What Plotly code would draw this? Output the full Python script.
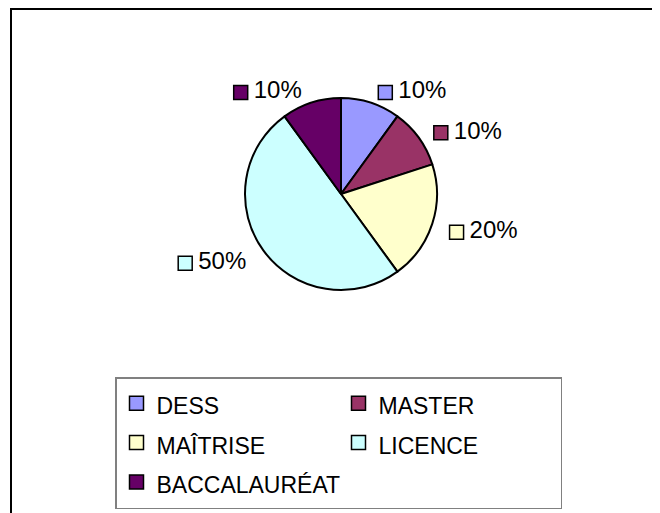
import math
import plotly.graph_objects as go

categories = ["DESS", "MASTER", "MAÎTRISE", "LICENCE", "BACCALAURÉAT"]
values = [10, 10, 20, 50, 10]
colors = ["#9999FF", "#993366", "#FFFFCC", "#CCFFFF", "#660066"]

W, H = 660, 513
cx, cy, rad = 333, 186, 96   # pie centre and radius, px (figure coords)

total = sum(values)
pct_text = [f"{round(v * 100 / total)}%" for v in values]

# outside-end label anchors from the slice mid angles
lab_x, lab_y = [], []
start = 0
for v in values:
    mid = (start + v / 2) / total * 2 * math.pi
    start += v
    ux, uy = math.sin(mid), -math.cos(mid)
    ax = cx + (rad + 15) * ux
    ay = cy + (rad + 15) * uy
    lab_x.append(ax + 10 if ux >= 0 else ax - 66)
    lab_y.append(ay + 4)

fig = go.Figure()
fig.add_trace(go.Pie(
    labels=categories, values=values, sort=False, direction="clockwise", rotation=0,
    marker=dict(colors=colors, line=dict(color="black", width=2)),
    textinfo="none", showlegend=False, hoverinfo="label+percent",
    domain=dict(x=[(cx - rad) / W, (cx + rad) / W], y=[1 - (cy + rad) / H, 1 - (cy - rad) / H]),
))

for i, name in enumerate(categories):
    fig.add_trace(go.Scatter(
        x=[lab_x[i]], y=[lab_y[i]], mode="markers",
        name=f'<span style="font-size:23px">{name}</span>',
        marker=dict(symbol="square", size=14, color=colors[i], line=dict(color="black", width=1.5)),
        hoverinfo="skip",
    ))

fig.add_trace(go.Scatter(
    x=[x + 13 for x in lab_x], y=lab_y, mode="text", text=pct_text,
    textposition="middle right", textfont=dict(size=24, color="black"),
    showlegend=False, hoverinfo="skip",
))

# outer chart-area frame
fig.add_shape(type="rect", xref="paper", yref="paper",
              x0=3 / W, x1=1.05, y0=1 - 1 / H, y1=-0.05,
              line=dict(color="black", width=2), fillcolor="rgba(0,0,0,0)")

fig.update_layout(
    width=W, height=H,
    margin=dict(l=0, r=0, t=0, b=0),
    paper_bgcolor="white", plot_bgcolor="white",
    font=dict(family="Liberation Sans, Arial, sans-serif", color="black"),
    xaxis=dict(range=[0, W], visible=False, fixedrange=True),
    yaxis=dict(range=[H, 0], visible=False, fixedrange=True),
    legend=dict(
        orientation="h", x=107 / W, xanchor="left", y=1 - 369 / H, yanchor="top",
        entrywidth=177, font=dict(size=28), traceorder="normal",
        bordercolor="#808080", borderwidth=1.5, bgcolor="white",
    ),
)

fig.write_html("out.html")
